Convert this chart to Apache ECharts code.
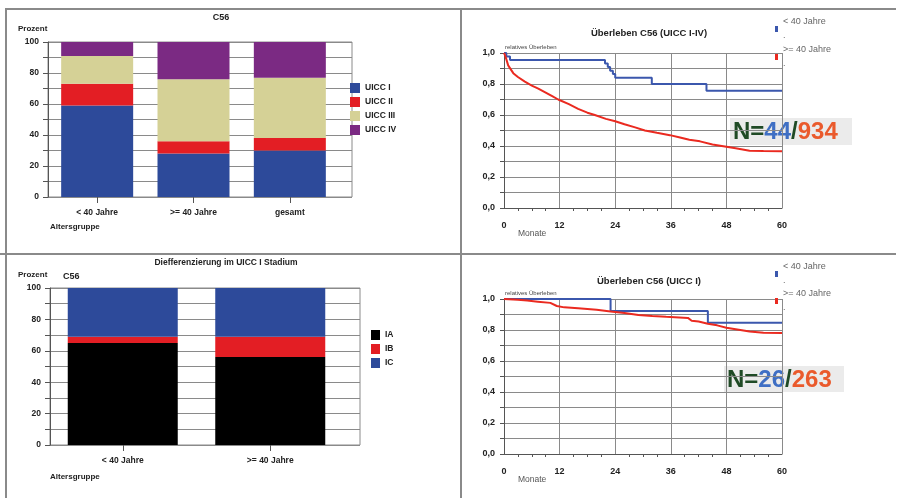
<!DOCTYPE html>
<html>
<head>
<meta charset="utf-8">
<script src="https://cdn.jsdelivr.net/npm/echarts@6/dist/echarts.min.js"></script>
<style>
html,body{margin:0;padding:0;background:#fff;}
#c{width:902px;height:498px;}
</style>
</head>
<body>
<div id="c"></div>
<script>
// ---- data ----
const barCategories = ['< 40 Jahre', '>= 40 Jahre', 'gesamt'];
const uicc1 = [59, 28, 30];
const uicc2 = [14, 8, 8];
const uicc3 = [18, 40, 39];
const uicc4 = [9, 24, 23];

const diffCategories = ['< 40 Jahre', '>= 40 Jahre'];
const diffIA = [65, 56];
const diffIB = [4, 13];
const diffIC = [31, 31];

// survival UICC I-IV (months, relative survival)
const survAllYoung = [[0,1],[0.5,0.977],[1.3,0.955],[21.8,0.932],[22.4,0.909],[22.9,0.886],[23.5,0.864],[24,0.841],[31.9,0.80],[43.7,0.757],[60,0.757]];
const survAllOld = [[0,1.0],[0.3,0.98],[0.9,0.92],[2,0.87],[3,0.845],[4.5,0.815],[6,0.79],[7.4,0.77],[9,0.745],[10.5,0.72],[11.7,0.70],[14,0.67],[16,0.64],[18,0.615],[19.6,0.60],[22,0.575],[24,0.56],[26,0.54],[28.3,0.52],[30.4,0.50],[33,0.485],[35.8,0.47],[38,0.455],[40,0.44],[42.3,0.43],[45,0.41],[48,0.395],[50,0.385],[53,0.37],[56,0.368],[60,0.366]];
// survival UICC I
const survIYoung = [[0,1],[23,0.923],[44,0.846],[60,0.846]];
const survIOld = [[0,1.0],[3,0.995],[5,0.99],[7.3,0.983],[10,0.975],[11.4,0.955],[13,0.946],[16,0.94],[20,0.93],[23,0.92],[26,0.91],[29,0.897],[32,0.89],[35,0.885],[39.7,0.878],[40.5,0.86],[42,0.855],[44,0.84],[46,0.83],[48,0.815],[50,0.805],[53,0.79],[56,0.783],[60,0.78]];

const nLabels = [['44','934'],['26','263']];

// ---- styles ----
const F = 'Liberation Sans, Arial, sans-serif';
const C = {u1:'#2d4a9a', u2:'#e31e24', u3:'#d5d196', u4:'#7b2a83', ia:'#000000', ib:'#e31e24', ic:'#2d4a9a', young:'#3b57ad', old:'#ea2a20'};
const gridLine = {show:true, lineStyle:{color:'#8a8a8a', width:1}};
const lbl = {fontFamily:F, fontWeight:'bold', fontSize:8, color:'#222'};

function pctAxis(gi){
  return {type:'value', gridIndex:gi, min:0, max:100, interval:10,
    axisLine:{show:true, lineStyle:{color:'#555'}}, axisTick:{show:true, length:5, lineStyle:{color:'#555'}},
    axisLabel:Object.assign({}, lbl, {fontSize:8.5, margin:9, formatter:v=> v%20===0 ? String(v) : ''}),
    splitLine:gridLine};
}
function hiddenVal(gi){ return {type:'value', gridIndex:gi, min:0, max:100, show:false}; }
function survY(gi){
  return {type:'value', gridIndex:gi, min:0, max:1, interval:0.1,
    axisLine:{show:true, lineStyle:{color:'#555'}}, axisTick:{show:true, length:4, lineStyle:{color:'#555'}},
    axisLabel:Object.assign({}, lbl, {fontSize:9, margin:9, formatter:v=> Math.round(v*10)%2===0 ? v.toFixed(1).replace('.',',') : ''}),
    splitLine:gridLine};
}
function survX(gi){
  return {type:'value', gridIndex:gi, min:0, max:60, interval:12,
    axisLine:{show:true, lineStyle:{color:'#555'}}, axisTick:{show:false},
    minorTick:{show:true, splitNumber:4, length:3, lineStyle:{color:'#555'}},
    axisLabel:Object.assign({}, lbl, {fontSize:9, margin:13}),
    splitLine:gridLine};
}
function catX(gi, data){
  return {type:'category', gridIndex:gi, data:data,
    axisLine:{show:false}, axisTick:{show:true, alignWithLabel:true, length:6, lineStyle:{color:'#555'}},
    axisLabel:Object.assign({}, lbl, {fontSize:8.5, margin:11})};
}
function bar(name, data, color, xi, yi, w){
  return {type:'bar', name:name, data:data, stack:'s'+xi, xAxisIndex:xi, yAxisIndex:yi, barWidth:w,
    itemStyle:{color:color}, animation:false};
}
function line(name, data, color, xi, step){
  return {type:'line', name:name, data:data, xAxisIndex:xi, yAxisIndex:xi, step:step||false,
    showSymbol:false, symbol:'none', lineStyle:{color:color, width:2}, itemStyle:{color:color}, animation:false};
}
function survLegend(name, left, top){
  return {data:[name], orient:'vertical', left:left, top:top, icon:'rect', itemWidth:3, itemHeight:6,
    itemGap:0, padding:0, formatter:n=> n + '\n.',
    textStyle:{fontFamily:F, fontSize:9, color:'#666', lineHeight:14}};
}
function txt(x, y, t, size, opts){
  return Object.assign({type:'text', x:x, y:y, silent:true,
    style:{text:t, font:'bold '+size+'px '+F, fill:'#222', align:'left', verticalAlign:'middle'}}, opts||{});
}
function nBox(x, y, w, h, a, b){
  return [
    {type:'rect', shape:{x:x, y:y, width:w, height:h}, style:{fill:'#ebebeb'}, silent:true},
    {type:'text', x:x+3, y:y+h/2+1, silent:true, style:{
      text:'{g|N=}{b|'+a+'}{g|/}{r|'+b+'}', verticalAlign:'middle', align:'left',
      rich:{g:{fill:'#1f4a25', font:'bold 24px '+F}, b:{fill:'#3f6fc4', font:'bold 24px '+F}, r:{fill:'#ea5a2c', font:'bold 24px '+F}}}}
  ];
}
const frame = {stroke:'#8a8a8a', lineWidth:2};

const option = {
  backgroundColor:'#ffffff',
  animation:false,
  grid:[
    {left:48, top:42, width:304, height:155, show:true, borderColor:'#8a8a8a', borderWidth:1, backgroundColor:'#fff'},
    {left:49, top:42, width:289, height:155},
    {left:50, top:288, width:310, height:157, show:true, borderColor:'#8a8a8a', borderWidth:1, backgroundColor:'#fff'},
    {left:49, top:288, width:295, height:157},
    {left:504, top:53, width:278, height:155},
    {left:504, top:299, width:278, height:155}
  ],
  xAxis:[
    {type:'category', gridIndex:0, data:[''], show:false},
    catX(1, barCategories),
    {type:'category', gridIndex:2, data:[''], show:false},
    catX(3, diffCategories),
    survX(4),
    survX(5)
  ],
  yAxis:[
    pctAxis(0), hiddenVal(1), pctAxis(2), hiddenVal(3), survY(4), survY(5)
  ],
  legend:[
    {data:['UICC I','UICC II','UICC III','UICC IV'], orient:'vertical', left:350, top:83, icon:'rect',
      itemWidth:10, itemHeight:10, itemGap:4, padding:0, textStyle:Object.assign({}, lbl, {fontSize:8.5})},
    {data:['IA','IB','IC'], orient:'vertical', left:371, top:330, icon:'rect',
      itemWidth:9, itemHeight:10, itemGap:4, padding:0, textStyle:Object.assign({}, lbl, {fontSize:8.5})},
    survLegend('< 40 Jahre', 775, 15),
    survLegend('>= 40 Jahre', 775, 43),
    survLegend('< 40 Jahre', 775, 260),
    survLegend('>= 40 Jahre', 775, 287)
  ],
  series:[
    bar('UICC I', uicc1, C.u1, 1, 1, 72),
    bar('UICC II', uicc2, C.u2, 1, 1, 72),
    bar('UICC III', uicc3, C.u3, 1, 1, 72),
    bar('UICC IV', uicc4, C.u4, 1, 1, 72),
    bar('IA', diffIA, C.ia, 3, 3, 110),
    bar('IB', diffIB, C.ib, 3, 3, 110),
    bar('IC', diffIC, C.ic, 3, 3, 110),
    line('< 40 Jahre', survAllYoung, C.young, 4, 'end'),
    line('>= 40 Jahre', survAllOld, C.old, 4),
    line('< 40 Jahre', survIYoung, C.young, 5, 'end'),
    line('>= 40 Jahre', survIOld, C.old, 5)
  ],
  graphic:[
    {type:'line', shape:{x1:5, y1:9, x2:896, y2:9}, style:frame, silent:true},
    {type:'line', shape:{x1:6, y1:9, x2:6, y2:498}, style:frame, silent:true},
    {type:'line', shape:{x1:461, y1:9, x2:461, y2:498}, style:frame, silent:true},
    {type:'line', shape:{x1:0, y1:254, x2:896, y2:254}, style:frame, silent:true},
    txt(221, 18, 'C56', 9, {style:{text:'C56', font:'bold 9px '+F, fill:'#222', align:'center', verticalAlign:'middle'}}),
    txt(18, 29, 'Prozent', 8),
    txt(50, 227, 'Altersgruppe', 8),
    txt(226, 263, 'Diefferenzierung im UICC I Stadium', 9, {style:{text:'Diefferenzierung im UICC I Stadium', font:'bold 8.5px '+F, fill:'#222', align:'center', verticalAlign:'middle'}}),
    txt(18, 275, 'Prozent', 8),
    txt(63, 277, 'C56', 9),
    txt(50, 477, 'Altersgruppe', 8),
    txt(649, 33, 'Überleben C56 (UICC I-IV)', 9, {style:{text:'Überleben C56 (UICC I-IV)', font:'bold 9.5px '+F, fill:'#222', align:'center', verticalAlign:'middle'}}),
    txt(505, 47, 'relatives Überleben', 6, {style:{text:'relatives Überleben', font:'6px '+F, fill:'#444', align:'left', verticalAlign:'middle'}}),
    txt(518, 234, 'Monate', 8, {style:{text:'Monate', font:'8.5px '+F, fill:'#555', align:'left', verticalAlign:'middle'}}),
    txt(649, 281, 'Überleben C56 (UICC I)', 9, {style:{text:'Überleben C56 (UICC I)', font:'bold 9.5px '+F, fill:'#222', align:'center', verticalAlign:'middle'}}),
    txt(505, 293, 'relatives Überleben', 6, {style:{text:'relatives Überleben', font:'6px '+F, fill:'#444', align:'left', verticalAlign:'middle'}}),
    txt(518, 480, 'Monate', 8, {style:{text:'Monate', font:'8.5px '+F, fill:'#555', align:'left', verticalAlign:'middle'}})
  ].concat(nBox(730, 118, 122, 27, nLabels[0][0], nLabels[0][1]))
   .concat(nBox(724, 366, 120, 26, nLabels[1][0], nLabels[1][1]))
};

const chart = echarts.init(document.getElementById('c'), null, {renderer:'canvas'});
chart.setOption(option);
</script>
</body>
</html>
